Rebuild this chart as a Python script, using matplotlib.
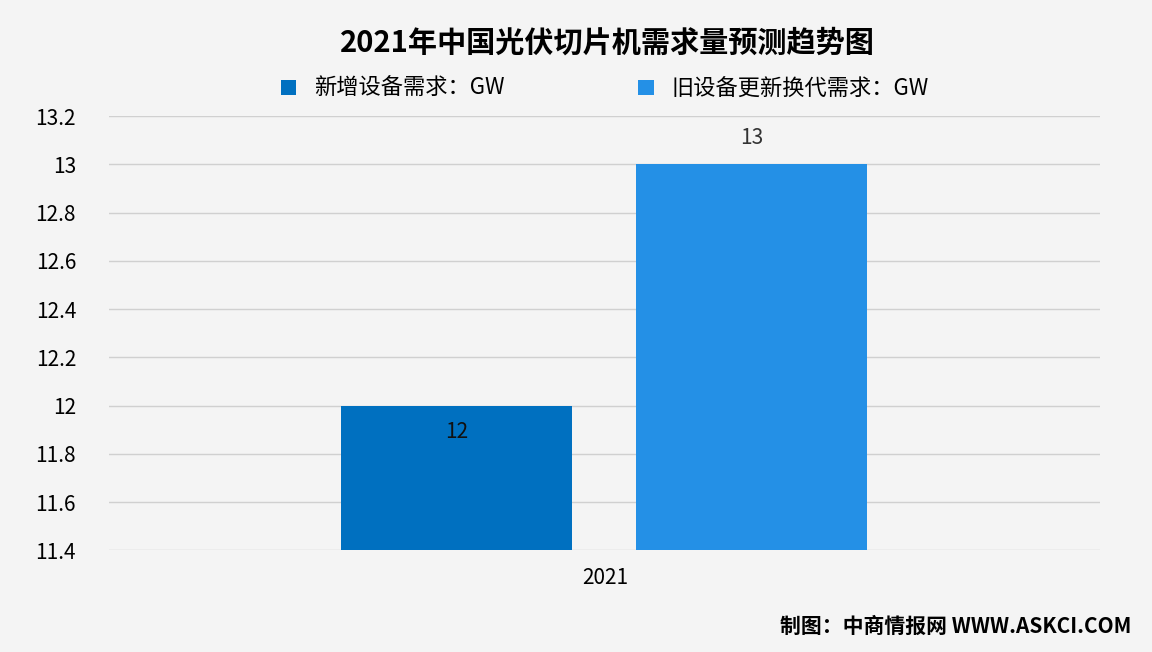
import matplotlib.pyplot as plt

plt.rcParams['font.family'] = ['Noto Sans CJK SC', 'DejaVu Sans']

years = ['2021']
series = ['新增设备需求：GW', '旧设备更新换代需求：GW']
values = [12, 13]
colors = ['#0070c0', '#2490e6']

fig = plt.figure(figsize=(11.52, 6.52), dpi=100)
fig.patch.set_facecolor('#f4f4f4')
ax = fig.add_axes([0.095, 0.156, 0.86, 0.666])
ax.set_facecolor('#f4f4f4')

offsets = [-0.15, 0.148]
for off, v, c, name in zip(offsets, values, colors, series):
    ax.bar(off, v - 11.4, bottom=11.4, width=0.233, color=c, label=name, zorder=3)

ax.text(offsets[0], values[0] - 0.11, str(values[0]), ha='center', va='center', fontsize=15, color='#111111', zorder=4)
ax.text(offsets[1], values[1] + 0.11, str(values[1]), ha='center', va='center', fontsize=15, color='#333333', zorder=4)

ax.set_xlim(-0.5, 0.5)
ax.set_ylim(11.4, 13.2)
ax.set_yticks([11.4 + 0.2 * i for i in range(10)])
ax.set_yticklabels(['11.4', '11.6', '11.8', '12', '12.2', '12.4', '12.6', '12.8', '13', '13.2'], fontsize=15)
ax.set_xticks([0])
ax.set_xticklabels(years, fontsize=15)
ax.tick_params(length=0, pad=12)
ax.tick_params(axis='y', pad=24)
ax.grid(axis='y', color='#d0d0d0', linewidth=1, zorder=0)
for s in ax.spines.values():
    s.set_visible(False)

fig.text(0.527, 0.935, '2021年中国光伏切片机需求量预测趋势图', ha='center', va='center', fontsize=21, fontweight='bold')
ax.legend(loc='lower center', bbox_to_anchor=(0.5, 0.99), ncol=2, frameon=False, fontsize=16,
          handlelength=0.7, handleheight=0.7, columnspacing=6)
fig.text(0.982, 0.04, '制图：中商情报网 WWW.ASKCI.COM', ha='right', va='center', fontsize=15, fontweight='bold')

fig.savefig('out.png', dpi=100, facecolor=fig.get_facecolor())
